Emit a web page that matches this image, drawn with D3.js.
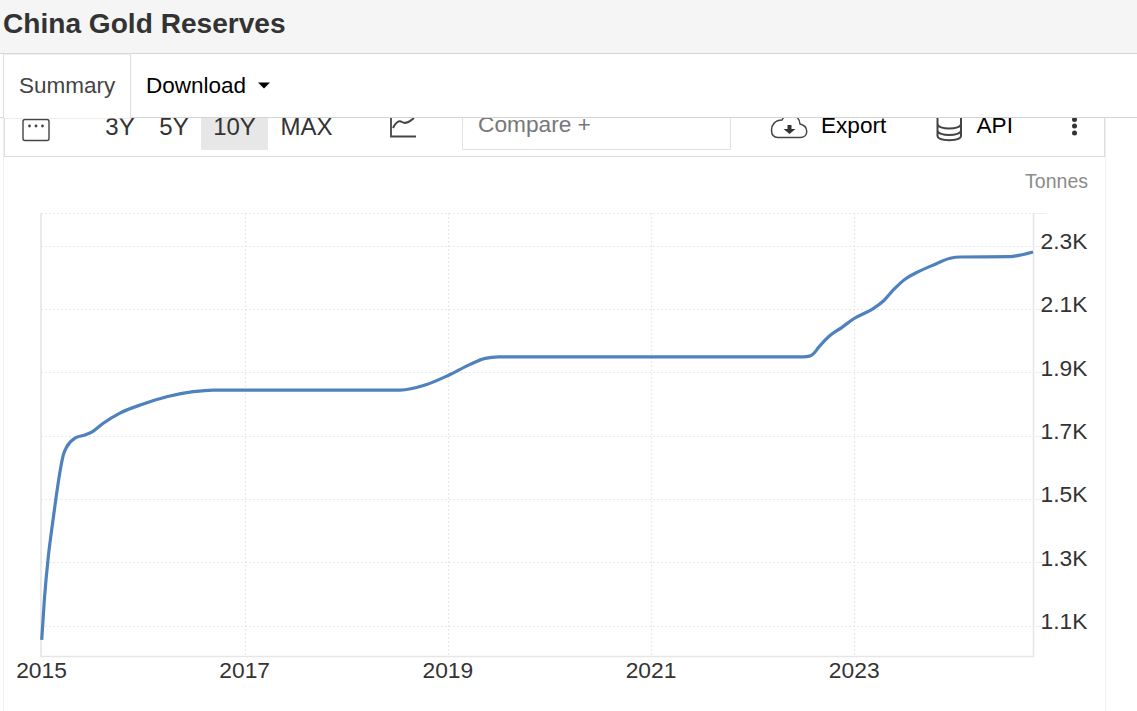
<!DOCTYPE html>
<html><head><meta charset="utf-8">
<script src="https://cdn.jsdelivr.net/npm/d3@7"></script>
<style>html,body{margin:0;padding:0;background:#fff;overflow:hidden}svg{display:block}text{font-family:"Liberation Sans",Arial,sans-serif}</style>
</head><body><svg id="c" width="1137" height="711"></svg>
<script>
const years=[2015.002,2015.028,2015.067,2015.100,2015.140,2015.182,2015.215,2015.248,2015.330,2015.428,2015.494,2015.608,2015.772,2016.002,2016.232,2016.494,2016.688,2018.53,2018.777,2019.003,2019.22,2019.366,2019.5,2022.5,2022.56,2022.6,2022.65,2022.75,2022.88,2022.995,2023.19,2023.29,2023.385,2023.5,2023.615,2023.78,2023.945,2024.045,2024.535,2024.63,2024.76];
const tonnes=[1055,1181,1318,1402,1497,1586,1639,1664,1692,1702,1711,1739,1771,1800,1823,1839,1844,1844,1860,1890,1925,1944,1949,1949,1951,1959,1979,2013,2042,2069,2102,2126,2160,2194,2215,2239,2260,2264,2265,2270,2280];
const xTicks=[2015,2017,2019,2021,2023];
const yTicks=[1100,1300,1500,1700,1900,2100,2300];
const yLabels=["1.1K","1.3K","1.5K","1.7K","1.9K","2.1K","2.3K"];
const rangeButtons=["3Y","5Y","10Y","MAX"];
const svg=d3.select("#c");
const x=d3.scaleLinear().domain([2015,2024.76]).range([41.5,1033]);
const y=d3.scaleLinear().domain([1001,2403]).range([657,213]);
const grid="#e9e9e9";
// chart panel
svg.append("rect").attr("x",3.5).attr("y",100).attr("width",1102).attr("height",640).attr("fill","#fff").attr("stroke","#f0f0f0");
svg.append("rect").attr("x",4.5).attr("y",100).attr("width",1100).attr("height",56.5).attr("fill","#fff").attr("stroke","#dcdcdc");
// toolbar
const tb=svg.append("g");
const btnX=[120,174,234.5,306.5];
tb.append("rect").attr("x",201).attr("y",100).attr("width",67).attr("height",50).attr("fill","#e7e7e7");
tb.selectAll("text.r").data(rangeButtons).join("text").attr("class","r").attr("x",(d,i)=>btnX[i]).attr("y",134.5).attr("text-anchor","middle").attr("font-size",24).attr("fill","#333").text(d=>d);
tb.append("rect").attr("x",23).attr("y",119.5).attr("width",26).attr("height",21).attr("rx",2).attr("fill","none").attr("stroke","#444").attr("stroke-width",1.4);
tb.selectAll("circle.d").data([29.5,36,42.5]).join("circle").attr("class","d").attr("cx",d=>d).attr("cy",126).attr("r",1.4).attr("fill","#444");
tb.append("path").attr("d","M391 110V136.5H416").attr("fill","none").attr("stroke","#444").attr("stroke-width",1.8);
tb.append("path").attr("d","M393 128C396 122 399 120 402 122C405 124 408 123 414 118").attr("fill","none").attr("stroke","#444").attr("stroke-width",2);
tb.append("rect").attr("x",462.5).attr("y",100).attr("width",268).attr("height",49.5).attr("fill","#fff").attr("stroke","#e2e2e2");
tb.append("text").attr("x",478).attr("y",132).attr("font-size",22.7).attr("fill","#777").text("Compare +");
tb.append("path").attr("d","M778 137.5H800C809 137.5 809 126 800 124C799 113 785 112 782 120C775 120 771.5 125 771.5 130C771.5 135 774 137.5 778 137.5Z").attr("fill","none").attr("stroke","#444").attr("stroke-width",1.5);
tb.append("path").attr("d","M787.5 125H791.5V129H795.5L789.5 134L783.5 129H787.5Z").attr("fill","#333");
tb.append("text").attr("x",821).attr("y",133).attr("font-size",22.6).attr("fill","#000").text("Export");
tb.append("path").attr("d","M937.5 116V136C937.5 141.5 961 141.5 961 136V116M937.5 124C937.5 130 961 130 961 124M937.5 130.5C937.5 136.5 961 136.5 961 130.5M937.5 118C937.5 112 961 112 961 118").attr("fill","none").attr("stroke","#444").attr("stroke-width",2);
tb.append("text").attr("x",976.5).attr("y",133).attr("font-size",22.6).attr("fill","#000").text("API");
tb.selectAll("circle.m").data([119.5,126,133]).join("circle").attr("class","m").attr("cx",1074.5).attr("cy",d=>d).attr("r",2.5).attr("fill","#333");
// header bars
svg.append("rect").attr("width",1137).attr("height",53.5).attr("fill","#f5f5f5");
svg.append("rect").attr("y",53).attr("width",1137).attr("height",64).attr("fill","#fff");
svg.append("line").attr("x1",0).attr("x2",1137).attr("y1",53.5).attr("y2",53.5).attr("stroke","#d4d4d4");
svg.append("line").attr("x1",0).attr("x2",1137).attr("y1",117.5).attr("y2",117.5).attr("stroke","#d4d4d4");
svg.append("rect").attr("x",3.5).attr("y",54).attr("width",127).attr("height",64).attr("fill","#fff").attr("stroke","#dedede");
svg.append("line").attr("x1",4).attr("x2",130).attr("y1",117.5).attr("y2",117.5).attr("stroke","#fff");
svg.append("text").attr("x",3).attr("y",33).attr("font-size",28.1).attr("font-weight",700).attr("fill","#333").text("China Gold Reserves");
svg.append("text").attr("x",19).attr("y",93).attr("font-size",22.5).attr("fill","#444").text("Summary");
svg.append("text").attr("x",146).attr("y",93).attr("font-size",22.5).attr("fill","#000").text("Download");
svg.append("path").attr("d","M258 82.5H270L264 88.5Z").attr("fill","#000");
// unit
svg.append("text").attr("x",1088).attr("y",188).attr("text-anchor","end").attr("font-size",19.5).attr("fill","#8a8a8a").text("Tonnes");
// grid
const g=svg.append("g");
g.selectAll("line.h").data(yTicks.concat([2403])).join("line").attr("class","h").attr("x1",41).attr("x2",1033).attr("y1",d=>Math.round(y(d))+.5).attr("y2",d=>Math.round(y(d))+.5).attr("stroke",grid).attr("stroke-width",1.2).attr("stroke-dasharray","2 2");
g.selectAll("line.v").data(xTicks.slice(1)).join("line").attr("class","v").attr("x1",d=>Math.round(x(d))+.5).attr("x2",d=>Math.round(x(d))+.5).attr("y1",213).attr("y2",657).attr("stroke",grid).attr("stroke-width",1.2).attr("stroke-dasharray","2 2");
// axes lines
g.append("line").attr("x1",41).attr("x2",41).attr("y1",213).attr("y2",657).attr("stroke","#e9e9e9").attr("stroke-width",2);
g.append("line").attr("x1",41).attr("x2",1034).attr("y1",656.5).attr("y2",656.5).attr("stroke","#e6e6e6").attr("stroke-width",1.5);
g.append("line").attr("x1",1033.5).attr("x2",1033.5).attr("y1",213).attr("y2",657).attr("stroke","#e6e6e6").attr("stroke-width",1.5);
g.selectAll("line.t").data(yTicks.concat([2403])).join("line").attr("class","t").attr("x1",1034).attr("x2",1047).attr("y1",d=>Math.round(y(d))+.5).attr("y2",d=>Math.round(y(d))+.5).attr("stroke","#f0f0f0");
// line
svg.append("path").datum(d3.zip(years,tonnes)).attr("fill","none").attr("stroke","#4f81bd").attr("stroke-width",3.2)
 .attr("stroke-linejoin","round")
 .attr("d",d3.line().x(d=>x(d[0])).y(d=>y(d[1])).curve(d3.curveMonotoneX));
// tick labels
svg.selectAll("text.x").data(xTicks).join("text").attr("class","x").attr("x",d=>x(d)).attr("y",677.5).attr("text-anchor","middle").attr("font-size",22.8).attr("fill","#333").text(d=>d);
svg.selectAll("text.y").data(yTicks).join("text").attr("class","y").attr("x",1087.5).attr("y",d=>y(d)+3.5).attr("text-anchor","end").attr("font-size",22.8).attr("fill","#333").text((d,i)=>yLabels[i]);
</script></body></html>
